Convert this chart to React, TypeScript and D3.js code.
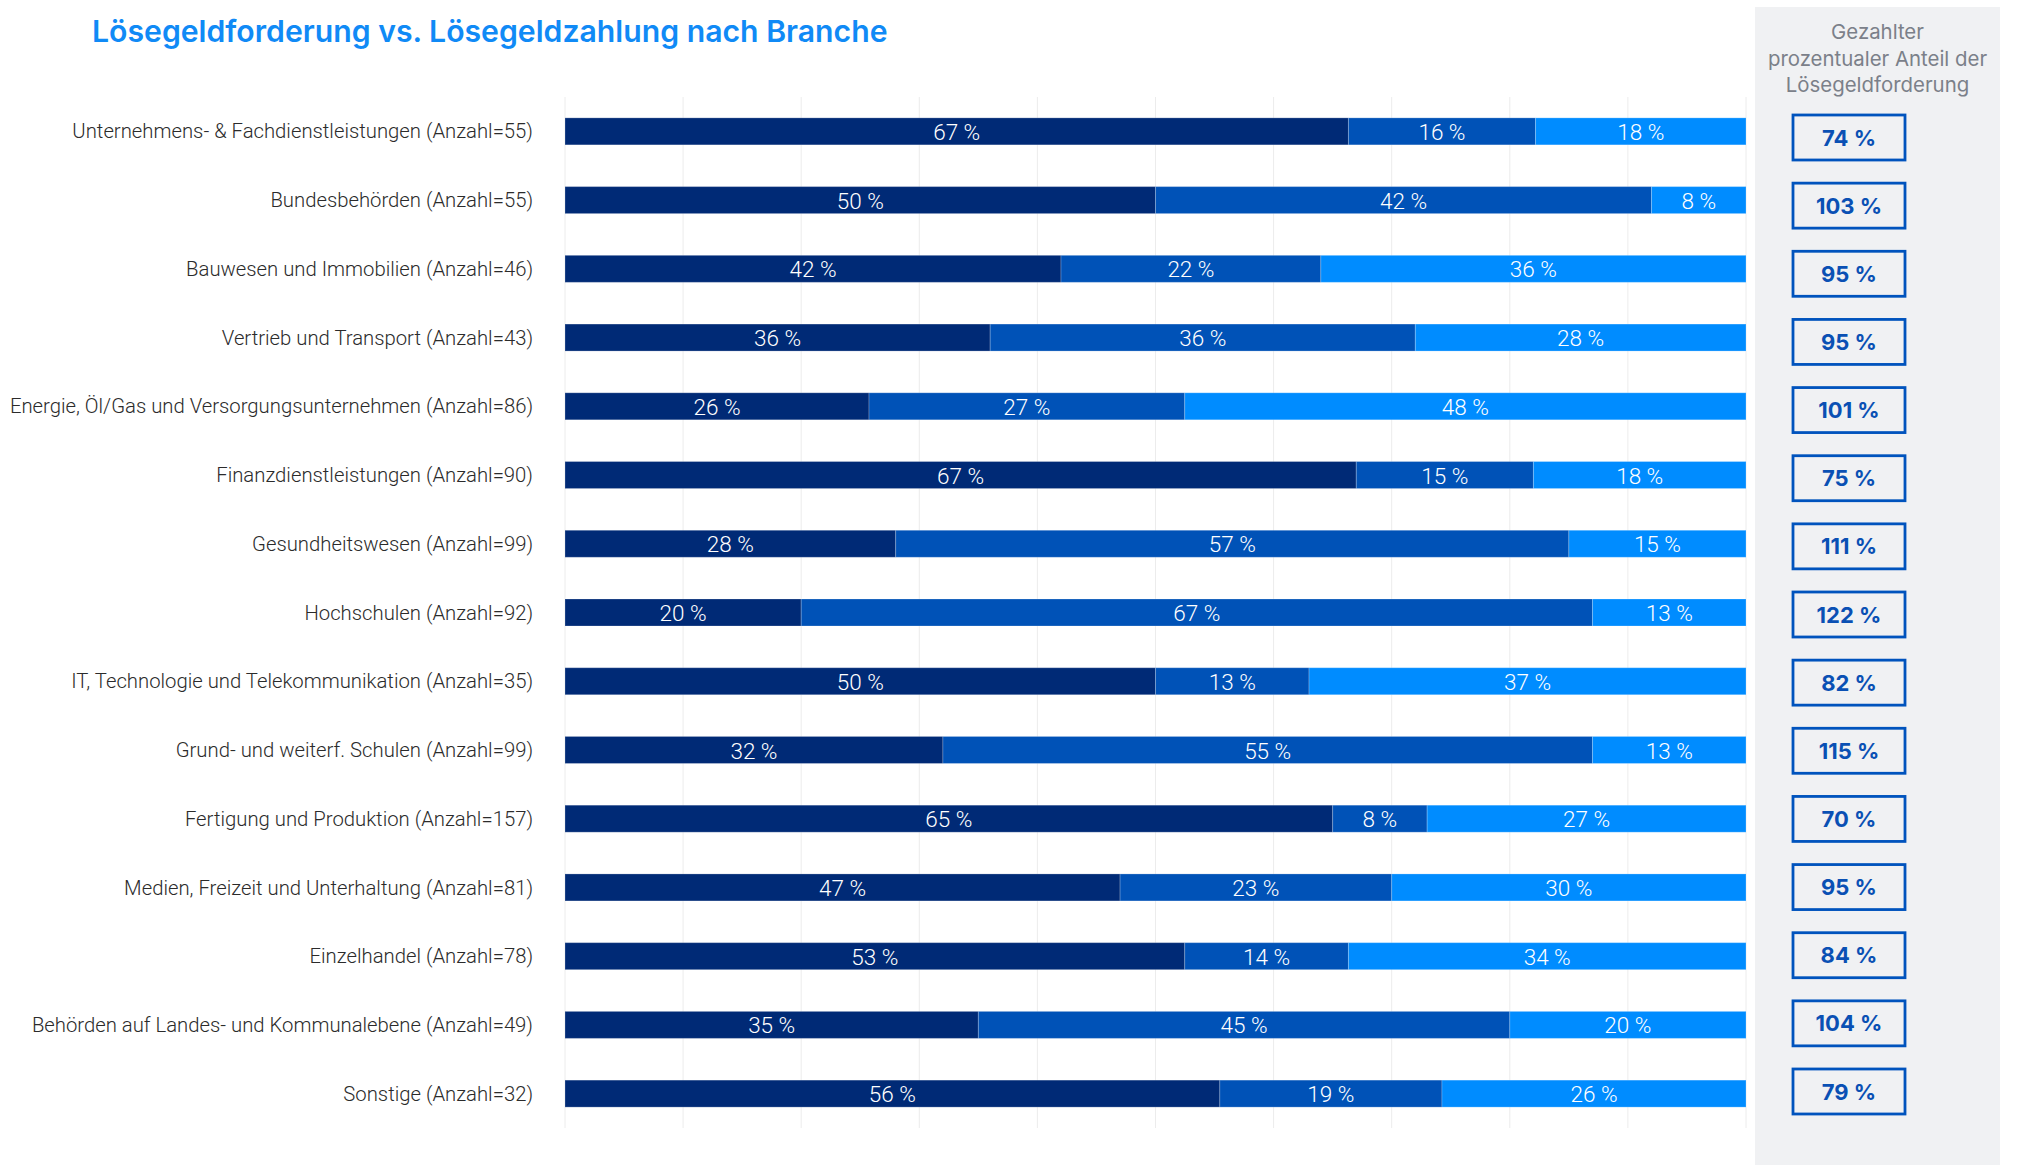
import * as d3 from "d3";
import React from "react";

const categories = [
  "Unternehmens- & Fachdienstleistungen (Anzahl=55)",
  "Bundesbehörden (Anzahl=55)",
  "Bauwesen und Immobilien (Anzahl=46)",
  "Vertrieb und Transport (Anzahl=43)",
  "Energie, Öl/Gas und Versorgungsunternehmen (Anzahl=86)",
  "Finanzdienstleistungen (Anzahl=90)",
  "Gesundheitswesen (Anzahl=99)",
  "Hochschulen (Anzahl=92)",
  "IT, Technologie und Telekommunikation (Anzahl=35)",
  "Grund- und weiterf. Schulen (Anzahl=99)",
  "Fertigung und Produktion (Anzahl=157)",
  "Medien, Freizeit und Unterhaltung (Anzahl=81)",
  "Einzelhandel (Anzahl=78)",
  "Behörden auf Landes- und Kommunalebene (Anzahl=49)",
  "Sonstige (Anzahl=32)",
];

// three segments per row, in percent
const seriesA = [67, 50, 42, 36, 26, 67, 28, 20, 50, 32, 65, 47, 53, 35, 56];
const seriesB = [16, 42, 22, 36, 27, 15, 57, 67, 13, 55, 8, 23, 14, 45, 19];
const seriesC = [18, 8, 36, 28, 48, 18, 15, 13, 37, 13, 27, 30, 34, 20, 26];

const paidShare = [74, 103, 95, 95, 101, 75, 111, 122, 82, 115, 70, 95, 84, 104, 79];

const headerLines = ["Gezahlter", "prozentualer Anteil der", "Lösegeldforderung"];
const gridTicks = d3.range(0, 1.0001, 0.1);

const colors = ["#002a76", "#0052b7", "#008cff"];
const keys = ["a", "b", "c"];

const W = 2032;
const H = 1165;

export default function App() {
  const rows = categories.map((c, i) => {
    const total = seriesA[i] + seriesB[i] + seriesC[i];
    return {
      cat: c,
      a: seriesA[i] / total,
      b: seriesB[i] / total,
      c: seriesC[i] / total,
      raw: [seriesA[i], seriesB[i], seriesC[i]],
    };
  });

  const stack = d3.stack<any>().keys(keys);
  const layers = stack(rows);

  const x = d3.scaleLinear().domain([0, 1]).range([565, 1746]);
  const y = d3.scaleBand().domain(categories).range([97, 1128]).padding(0);
  const boxY = d3.scalePoint().domain(categories).range([137.5, 1091.5]);
  const barH = 27;

  return (
    <div style={{ position: "absolute", left: 0, top: 0 }}>
      <svg width={W} height={H} style={{ display: "block", background: "#fff" }}>
        <text
          x={92}
          y={41.5}
          fill="#108af6"
          fontFamily="Inter, Roboto, sans-serif"
          fontWeight={600}
          fontSize={30.2}
        >
          Lösegeldforderung vs. Lösegeldzahlung nach Branche
        </text>

        {/* grid */}
        {gridTicks.map((t) => (
          <line
            key={t}
            x1={x(t)}
            x2={x(t)}
            y1={97}
            y2={1128}
            stroke="#ececec"
            strokeWidth={1}
          />
        ))}

        {/* category labels */}
        {categories.map((c) => (
          <text
            key={c}
            x={533}
            y={(y(c) as number) + y.bandwidth() / 2}
            dy="0.35em"
            textAnchor="end"
            fill="#2b2b2b"
            fontFamily="Roboto, sans-serif"
            fontWeight={300}
            fontSize={20.3}
          >
            {c}
          </text>
        ))}

        {/* bars */}
        {layers.map((layer, li) => (
          <g key={layer.key}>
            {layer.map((d, i) => {
              const cy = (y(categories[i]) as number) + y.bandwidth() / 2;
              const x0 = x(d[0]);
              const x1 = x(d[1]);
              return (
                <g key={i}>
                  <rect
                    x={x0}
                    y={cy - barH / 2}
                    width={x1 - x0}
                    height={barH}
                    fill={colors[li]}
                    stroke="rgba(255,255,255,0.22)"
                    strokeWidth={1}
                  />
                  <text
                    x={(x0 + x1) / 2}
                    y={cy}
                    dy="0.38em"
                    textAnchor="middle"
                    fill="#fff"
                    fontFamily="Roboto, sans-serif"
                    fontWeight={300}
                    fontSize={22.5}
                  >
                    {rows[i].raw[li]} %
                  </text>
                </g>
              );
            })}
          </g>
        ))}

        {/* right panel */}
        <rect x={1755} y={7} width={245} height={H - 7} fill="#f0f1f3" />
        {headerLines.map((l, i) => (
          <text
            key={l}
            x={1877.5}
            y={39 + i * 26.5}
            textAnchor="middle"
            fill="#7b8089"
            fontFamily="Inter, sans-serif"
            fontSize={20.4}
          >
            {l}
          </text>
        ))}
        {categories.map((c, i) => {
          const cy = boxY(c) as number;
          return (
            <g key={c}>
              <rect
                x={1793}
                y={cy - 22.5}
                width={112}
                height={45}
                fill="none"
                stroke="#0053bd"
                strokeWidth={2.8}
              />
              <text
                x={1849}
                y={cy}
                dy="0.37em"
                textAnchor="middle"
                fill="#0a50b4"
                fontFamily="Inter, sans-serif"
                fontWeight={700}
                fontSize={22}
              >
                {paidShare[i]} %
              </text>
            </g>
          );
        })}
      </svg>
    </div>
  );
}
